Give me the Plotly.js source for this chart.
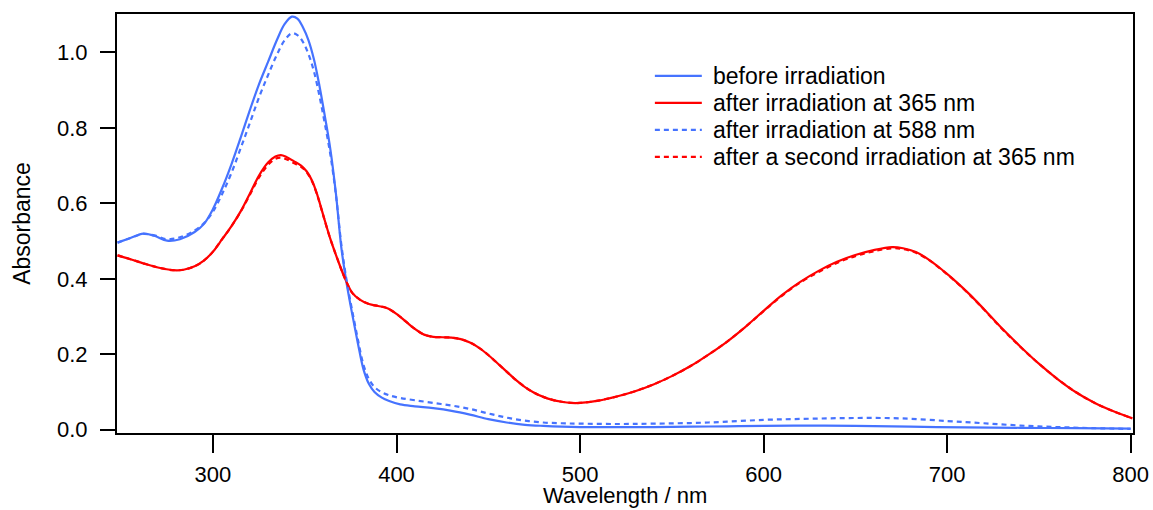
<!DOCTYPE html>
<html>
<head>
<meta charset="utf-8">
<script src="https://cdn.plot.ly/plotly-3.0.1.min.js"></script>
<style>
  html, body { margin: 0; padding: 0; background: #ffffff; }
  #chart { width: 1153px; height: 510px; }
</style>
</head>
<body>
<div id="chart"></div>
<script>
// Wavelength (nm) / absorbance values
const wlBefore = [248,255,262,268,275,282,290,295,300,305,310,315,320,325,330,335,339,343,346,349,352,355,358,361,364,367,370,373,376,379,382,385,388,392,396,402,410,420,430,440,450,460,470,480,490,500,520,540,560,580,600,625,650,680,710,740,770,800];
const absBefore = [0.496,0.508,0.520,0.514,0.501,0.505,0.524,0.545,0.585,0.640,0.703,0.773,0.846,0.915,0.975,1.035,1.075,1.095,1.090,1.067,1.033,0.982,0.912,0.830,0.742,0.625,0.480,0.383,0.303,0.228,0.160,0.121,0.100,0.085,0.076,0.067,0.062,0.057,0.050,0.040,0.028,0.019,0.013,0.010,0.008,0.007,0.007,0.007,0.008,0.009,0.010,0.011,0.010,0.008,0.006,0.005,0.004,0.003];

const wl365 = [248,255,262,270,278,284,290,295,300,305,310,315,320,325,330,334,337,340,344,348,351,354,357,360,364,368,372,376,380,385,390,395,400,405,410,415,420,425,430,435,440,445,450,455,460,465,470,475,480,485,490,495,500,510,520,530,540,550,560,570,580,590,600,610,620,630,640,650,660,670,676,683,690,698,705,712,720,730,740,750,760,770,780,790,801];
const abs365 = [0.462,0.452,0.441,0.430,0.423,0.424,0.433,0.448,0.472,0.505,0.539,0.578,0.625,0.673,0.708,0.724,0.728,0.723,0.712,0.700,0.685,0.660,0.620,0.570,0.505,0.450,0.400,0.362,0.345,0.333,0.328,0.322,0.307,0.287,0.267,0.252,0.246,0.245,0.244,0.240,0.231,0.217,0.198,0.176,0.154,0.132,0.113,0.098,0.087,0.079,0.074,0.071,0.071,0.077,0.088,0.102,0.120,0.142,0.168,0.199,0.233,0.272,0.315,0.357,0.392,0.421,0.445,0.463,0.476,0.484,0.481,0.471,0.451,0.421,0.392,0.360,0.320,0.268,0.220,0.175,0.135,0.100,0.072,0.050,0.030];

const wl588 = [248,255,262,268,275,282,290,295,300,305,310,315,320,325,330,335,339,343,346,349,352,355,358,361,364,367,370,373,376,379,382,385,388,392,396,402,410,420,430,440,450,460,470,480,490,500,520,540,570,600,625,650,675,700,720,740,760,780,800];
const abs588 = [0.496,0.508,0.519,0.515,0.505,0.510,0.528,0.547,0.578,0.625,0.680,0.745,0.812,0.880,0.940,0.996,1.032,1.051,1.046,1.028,0.996,0.950,0.885,0.810,0.728,0.622,0.488,0.390,0.312,0.238,0.172,0.134,0.113,0.099,0.091,0.084,0.078,0.071,0.064,0.055,0.043,0.032,0.024,0.019,0.017,0.016,0.015,0.016,0.019,0.026,0.029,0.031,0.030,0.023,0.017,0.011,0.007,0.004,0.002];

const wl365b = wl365;
const abs365b = [0.462,0.452,0.441,0.430,0.423,0.424,0.433,0.448,0.472,0.505,0.539,0.577,0.622,0.668,0.702,0.718,0.721,0.717,0.707,0.697,0.683,0.658,0.619,0.569,0.505,0.450,0.400,0.362,0.345,0.333,0.328,0.322,0.307,0.287,0.267,0.252,0.246,0.245,0.244,0.240,0.231,0.217,0.198,0.176,0.154,0.132,0.113,0.098,0.087,0.079,0.074,0.071,0.071,0.077,0.088,0.102,0.120,0.142,0.168,0.199,0.233,0.272,0.314,0.355,0.390,0.418,0.442,0.460,0.473,0.481,0.479,0.469,0.450,0.420,0.391,0.359,0.319,0.267,0.219,0.175,0.135,0.100,0.072,0.050,0.030];

const seriesNames = ["before irradiation","after irradiation at 365 nm","after irradiation at 588 nm","after a second irradiation at 365 nm"];
const xTitle = "Wavelength / nm";
const yTitle = "Absorbance";

const BLUE = "#4673ff", RED = "#ff0000";
const COLORS = [BLUE, RED, BLUE, RED];
const DASHES = ["solid", "solid", "5px,4px", "5px,4px"];
const FONT = "Liberation Sans, Arial, Helvetica, sans-serif";

const xs = [wlBefore, wl365, wl588, wl365b];
const ys = [absBefore, abs365, abs588, abs365b];

const traces = xs.map((x, i) => ({
  x: x, y: ys[i], name: seriesNames[i], type: "scatter", mode: "lines",
  showlegend: false,
  line: {color: COLORS[i], width: 2.2, dash: DASHES[i], shape: "spline", smoothing: 1.0}
}));

// Legend drawn as paper-space samples + text, to match the reference spacing
const legX0 = 0.5294, legX1 = 0.5756, legTextX = 0.5845;
const legRows = [0.8522, 0.7878, 0.7234, 0.6590];
const shapes = legRows.map((yy, i) => ({
  type: "line", xref: "paper", yref: "paper", x0: legX0, x1: legX1, y0: yy, y1: yy,
  line: {color: COLORS[i], width: 2.2, dash: DASHES[i]}
}));
const annotations = legRows.map((yy, i) => ({
  xref: "paper", yref: "paper", x: legTextX, y: yy, xanchor: "left", yanchor: "middle",
  text: seriesNames[i], showarrow: false,
  font: {family: FONT, size: 23, color: "#000"}
}));
// x-axis title placed just below the tick labels, as in the reference
annotations.push({
  xref: "paper", yref: "paper", x: 0.5, y: -0.149, xanchor: "center", yanchor: "middle",
  text: xTitle, showarrow: false, font: {family: FONT, size: 22, color: "#000"}
});

const axisCommon = {
  showline: true, linecolor: "#000", linewidth: 2, mirror: true,
  ticks: "outside", tickcolor: "#000", tickwidth: 2,
  showgrid: false, zeroline: false,
  tickfont: {family: FONT, size: 22, color: "#000"}
};

const layout = {
  width: 1153, height: 510,
  margin: {l: 117, r: 20, t: 14, b: 77, pad: 0},
  paper_bgcolor: "#fff", plot_bgcolor: "#fff",
  showlegend: false,
  shapes: shapes,
  annotations: annotations,
  xaxis: Object.assign({}, axisCommon, {
    range: [247.7, 801.3], tickvals: [300,400,500,600,700,800], ticklen: 18,
    ticklabelstandoff: 3
  }),
  yaxis: Object.assign({}, axisCommon, {
    range: [-0.0088, 1.102], tickvals: [0,0.2,0.4,0.6,0.8,1.0], ticktext: ["0.0","0.2","0.4","0.6","0.8","1.0"],
    ticklen: 15, ticklabelstandoff: 8,
    title: {text: yTitle, font: {family: FONT, size: 23, color: "#000"}, standoff: 20}
  })
};

Plotly.newPlot("chart", traces, layout, {staticPlot: true, displayModeBar: false});
</script>
</body>
</html>
